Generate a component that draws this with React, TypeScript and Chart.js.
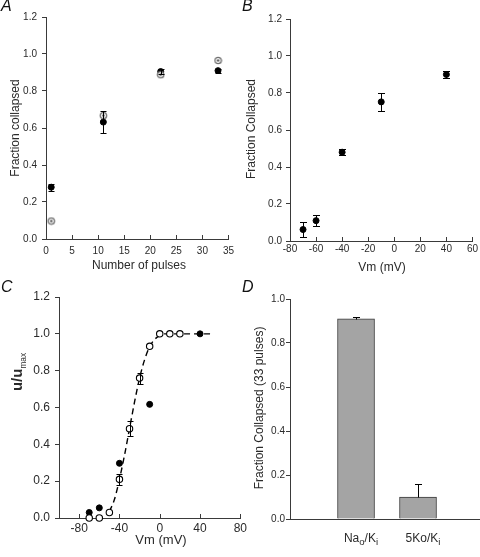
import React, { useEffect, useRef } from 'react';
import { Chart, registerables } from 'chart.js';

Chart.register(...registerables);

const FONT = '"Liberation Sans", Arial, Helvetica, sans-serif';
const AXIS = '#3a3a3a';
const TEXT = '#2a2a2a';

// ---------- Panel A data ----------
const aPulses = [1, 11, 22, 33];
const aFilled = [0.28, 0.632, 0.905, 0.91];
const aFilledErr = [0.02, 0.06, 0.015, 0.01];
const aOpen = [0.097, 0.667, 0.888, 0.965];
const aXTicks = [0, 5, 10, 15, 20, 25, 30, 35];
const fracTicks = [0, 0.2, 0.4, 0.6, 0.8, 1.0, 1.2];

// ---------- Panel B data ----------
const bVm = [-70, -60, -40, -10, 40];
const bFrac = [0.062, 0.11, 0.48, 0.752, 0.9];
const bErr = [0.04, 0.03, 0.015, 0.05, 0.017];
const bXTicks = [-80, -60, -40, -20, 0, 20, 40, 60];

// ---------- Panel C data ----------
const cOpenVm = [-70, -60, -50, -40, -30, -20, -10, 0, 10, 20];
const cOpen = [0, 0, 0.03, 0.21, 0.485, 0.76, 0.932, 1.0, 1.0, 1.0];
const cOpenErr = [0, 0, 0, 0.03, 0.04, 0.03, 0, 0, 0, 0];
const cFilledVm = [-70, -60, -40, -10, 40];
const cFilled = [0.03, 0.055, 0.297, 0.617, 1.0];
const cFitVm = [-50, -45, -40, -35, -30, -25, -20, -15, -10, -5, 0, 5, 10, 20, 30, 40, 50];
const cFit = [0.035, 0.1, 0.21, 0.34, 0.485, 0.63, 0.76, 0.86, 0.93, 0.97, 0.99, 1.0, 1.0, 1.0, 1.0, 1.0, 1.0];
const cXTicks = [-80, -40, 0, 40, 80];

// ---------- Panel D data ----------
const dLabels = ['Na_o/K_i', '5Ko/K_i'];
const dValues = [0.91, 0.1];
const dErrUp = [0.01, 0.06];
const dYTicks = [0, 0.2, 0.4, 0.6, 0.8, 1.0];

const pts = (xs: number[], ys: number[]) => xs.map((x, i) => ({ x, y: ys[i] }));

type Seg = { t: string; sub: boolean };
function parseRich(s: string): Seg[] {
  const out: Seg[] = [];
  let i = 0;
  let buf = '';
  while (i < s.length) {
    if (s[i] === '_') {
      if (buf) {
        out.push({ t: buf, sub: false });
        buf = '';
      }
      if (s[i + 1] === '{') {
        const j = s.indexOf('}', i);
        out.push({ t: s.slice(i + 2, j), sub: true });
        i = j + 1;
      } else {
        out.push({ t: s[i + 1], sub: true });
        i += 2;
      }
    } else {
      buf += s[i];
      i++;
    }
  }
  if (buf) out.push({ t: buf, sub: false });
  return out;
}

type RichOpts = {
  text: string;
  x: number;
  y: number;
  size: number;
  bold?: boolean;
  subBold?: boolean;
  subScale?: number;
  rotate?: boolean;
  color?: string;
};

function drawRich(ctx: CanvasRenderingContext2D, o: RichOpts) {
  const segs = parseRich(o.text);
  const subSize = o.size * (o.subScale ?? 0.75);
  const fontFor = (sub: boolean) =>
    `${(sub ? o.subBold : o.bold) ? 'bold ' : ''}${sub ? subSize : o.size}px ${FONT}`;
  let total = 0;
  const widths = segs.map((s) => {
    ctx.font = fontFor(s.sub);
    const w = ctx.measureText(s.t).width;
    total += w;
    return w;
  });
  ctx.save();
  ctx.translate(o.x, o.y);
  if (o.rotate) ctx.rotate(-Math.PI / 2);
  ctx.fillStyle = o.color ?? TEXT;
  ctx.textBaseline = 'alphabetic';
  ctx.textAlign = 'left';
  const base = o.size * 0.36;
  let cx = -total / 2;
  segs.forEach((s, k) => {
    ctx.font = fontFor(s.sub);
    ctx.fillText(s.t, cx, s.sub ? base + o.size * 0.22 : base);
    cx += widths[k];
  });
  ctx.restore();
}

type DecorCfg = {
  inwardTicks?: number;
  yTitle?: RichOpts;
  xTitle?: RichOpts;
  xLabels?: { text: string; value: number; dx: number; y: number; size: number }[];
};

function makeDecor(cfg: DecorCfg) {
  return {
    id: 'decor',
    afterDraw(chart: any) {
      const ctx = chart.ctx as CanvasRenderingContext2D;
      const xs = chart.scales.x;
      const area = chart.chartArea;
      if (cfg.inwardTicks) {
        ctx.save();
        ctx.strokeStyle = AXIS;
        ctx.lineWidth = 1;
        xs.ticks.forEach((t: any) => {
          const px = Math.round(xs.getPixelForValue(t.value)) + 0.5;
          ctx.beginPath();
          ctx.moveTo(px, area.bottom);
          ctx.lineTo(px, area.bottom - cfg.inwardTicks!);
          ctx.stroke();
        });
        ctx.restore();
      }
      if (cfg.yTitle) drawRich(ctx, { ...cfg.yTitle, rotate: true });
      if (cfg.xTitle) drawRich(ctx, cfg.xTitle);
      if (cfg.xLabels) {
        cfg.xLabels.forEach((l) => {
          drawRich(ctx, {
            text: l.text,
            x: xs.getPixelForValue(l.value) + l.dx,
            y: l.y,
            size: l.size,
            subScale: 0.8,
          });
        });
      }
    },
  };
}

type ErrCfg = { ds: number; plus: number[]; minus?: number[]; cap: number };
function makeErrorBars(list: ErrCfg[]) {
  return {
    id: 'errorBars',
    afterDatasetsDraw(chart: any) {
      const ctx = chart.ctx as CanvasRenderingContext2D;
      const xs = chart.scales.x;
      const ys = chart.scales.y;
      ctx.save();
      ctx.strokeStyle = '#000';
      ctx.lineWidth = 1;
      list.forEach((e) => {
        const data = chart.data.datasets[e.ds].data as { x: number; y: number }[];
        data.forEach((p, j) => {
          const up = e.plus[j] ?? 0;
          const dn = e.minus ? e.minus[j] ?? 0 : 0;
          if (!up && !dn) return;
          const px = Math.round(xs.getPixelForValue(p.x)) + 0.5;
          const y1 = Math.round(ys.getPixelForValue(p.y + up)) + 0.5;
          const y2 = Math.round(ys.getPixelForValue(p.y - dn)) + 0.5;
          ctx.beginPath();
          ctx.moveTo(px, y1);
          ctx.lineTo(px, y2);
          if (up) {
            ctx.moveTo(px - e.cap, y1);
            ctx.lineTo(px + e.cap, y1);
          }
          if (dn) {
            ctx.moveTo(px - e.cap, y2);
            ctx.lineTo(px + e.cap, y2);
          }
          ctx.stroke();
        });
      });
      ctx.restore();
    },
  };
}

function yScale(min: number, max: number, ticks: number[], width: number, fontSize: number, pad: number, tickLen: number) {
  return {
    type: 'linear',
    position: 'left',
    min,
    max,
    afterBuildTicks: (s: any) => {
      s.ticks = ticks.map((v) => ({ value: v }));
    },
    afterFit: (s: any) => {
      s.width = width;
    },
    ticks: {
      font: { family: FONT, size: fontSize },
      color: TEXT,
      padding: pad,
      autoSkip: false,
      callback: (v: any) => Number(v).toFixed(1),
    },
    grid: { display: true, drawOnChartArea: false, drawTicks: true, tickLength: tickLen, color: AXIS, lineWidth: 1 },
    border: { display: true, color: AXIS, width: 1 },
  };
}

function xScale(min: number, max: number, ticks: number[], height: number, fontSize: number, pad: number, showLabels = true) {
  return {
    type: 'linear',
    position: 'bottom',
    min,
    max,
    afterBuildTicks: (s: any) => {
      s.ticks = ticks.map((v) => ({ value: v }));
    },
    afterFit: (s: any) => {
      s.height = height;
    },
    ticks: {
      display: showLabels,
      font: { family: FONT, size: fontSize },
      color: TEXT,
      padding: pad,
      maxRotation: 0,
      autoSkip: false,
      callback: (v: any) => String(v),
    },
    grid: { display: true, drawOnChartArea: false, drawTicks: false, color: AXIS, lineWidth: 1 },
    border: { display: true, color: AXIS, width: 1 },
  };
}

function ringDot(): HTMLCanvasElement {
  const c = document.createElement('canvas');
  c.width = 9;
  c.height = 9;
  const g = c.getContext('2d')!;
  g.beginPath();
  g.arc(4.5, 4.5, 3.2, 0, Math.PI * 2);
  g.fillStyle = '#fff';
  g.fill();
  g.lineWidth = 1.3;
  g.strokeStyle = '#707070';
  g.stroke();
  g.beginPath();
  g.arc(4.5, 4.5, 1.2, 0, Math.PI * 2);
  g.fillStyle = '#505050';
  g.fill();
  return c;
}

const baseOptions = (padding: any) => ({
  animation: false,
  responsive: false,
  devicePixelRatio: 1,
  events: [],
  layout: { padding },
  plugins: { legend: { display: false }, tooltip: { enabled: false }, title: { display: false } },
});

const filledStyle = {
  backgroundColor: '#000',
  borderColor: '#000',
  pointRadius: 3,
  borderWidth: 1,
  clip: false,
};

function buildA(): any {
  return {
    type: 'scatter',
    data: {
      datasets: [
        { data: pts(aPulses, aOpen), pointStyle: ringDot(), pointRadius: 4, clip: false },
        { data: pts(aPulses, aFilled), ...filledStyle },
      ],
    },
    options: {
      ...baseOptions({ left: 0, top: 17, right: 5, bottom: 0 }),
      scales: {
        x: xScale(0, 35, aXTicks, 41, 10, 6),
        y: yScale(0, 1.2, fracTicks, 46, 10, 5, 4),
      },
    },
    plugins: [
      makeErrorBars([{ ds: 1, plus: aFilledErr, minus: aFilledErr, cap: 3 }]),
      makeDecor({
        inwardTicks: 4,
        yTitle: { text: 'Fraction collapsed', x: 15, y: 128, size: 12 },
        xTitle: { text: 'Number of pulses', x: 139, y: 265, size: 12 },
      }),
    ],
  };
}

function buildB(): any {
  return {
    type: 'scatter',
    data: {
      datasets: [{ data: pts(bVm, bFrac), ...filledStyle }],
    },
    options: {
      ...baseOptions({ left: 0, top: 19, right: 7, bottom: 0 }),
      scales: {
        x: xScale(-80, 60, bXTicks, 39, 10, 2),
        y: yScale(0, 1.2, fracTicks, 50, 10, 4, 4),
      },
    },
    plugins: [
      makeErrorBars([{ ds: 0, plus: bErr, minus: bErr, cap: 3.5 }]),
      makeDecor({
        inwardTicks: 4,
        yTitle: { text: 'Fraction Collapsed', x: 11, y: 129, size: 12 },
        xTitle: { text: 'Vm (mV)', x: 142, y: 267, size: 12 },
      }),
    ],
  };
}

function buildC(): any {
  return {
    type: 'scatter',
    data: {
      datasets: [
        {
          data: pts(cOpenVm, cOpen),
          backgroundColor: '#fff',
          borderColor: '#000',
          pointRadius: 3.2,
          borderWidth: 1.1,
          clip: false,
        },
        { data: pts(cFilledVm, cFilled), ...filledStyle },
        {
          type: 'line',
          data: pts(cFitVm, cFit),
          borderColor: '#000',
          borderWidth: 1.4,
          borderDash: [6, 4],
          pointRadius: 0,
          cubicInterpolationMode: 'monotone',
          fill: false,
          showLine: true,
          clip: false,
        },
      ],
    },
    options: {
      ...baseOptions({ left: 0, top: 17, right: 7, bottom: 0 }),
      scales: {
        x: xScale(-100, 80, cXTicks, 39, 12, 3),
        y: yScale(0, 1.2, fracTicks, 59, 12, 5, 4),
      },
    },
    plugins: [
      makeErrorBars([{ ds: 0, plus: cOpenErr, minus: cOpenErr, cap: 3 }]),
      makeDecor({
        inwardTicks: 4,
        yTitle: { text: 'u/u_{max}', x: 17, y: 92, size: 15, bold: true, subBold: false, subScale: 0.55 },
        xTitle: { text: 'Vm (mV)', x: 161, y: 259, size: 13 },
      }),
    ],
  };
}

function buildD(): any {
  return {
    type: 'bar',
    data: {
      datasets: [
        {
          data: pts([1, 2], dValues),
          backgroundColor: '#a4a4a4',
          borderColor: '#3a3a3a',
          borderWidth: 1,
          barThickness: 37,
        },
      ],
    },
    options: {
      ...baseOptions({ left: 0, top: 19, right: 0, bottom: 0 }),
      scales: {
        x: xScale(-0.065, 3.0, [], 38, 12, 0, false),
        y: yScale(0, 1.0, dYTicks, 40, 10, 1, 4),
      },
    },
    plugins: [
      makeErrorBars([{ ds: 0, plus: dErrUp, cap: 3.5 }]),
      makeDecor({
        yTitle: { text: 'Fraction Collapsed (33 pulses)', x: 9, y: 128, size: 12 },
        xLabels: dLabels.map((t, i) => ({ text: t, value: i + 1, dx: 5, y: 258, size: 12 })),
      }),
    ],
  };
}

function ChartPanel(props: { left: number; top: number; width: number; height: number; build: () => any }) {
  const ref = useRef<HTMLCanvasElement>(null);
  useEffect(() => {
    const chart = new Chart(ref.current as HTMLCanvasElement, props.build());
    return () => chart.destroy();
  }, []);
  return (
    <canvas
      ref={ref}
      width={props.width}
      height={props.height}
      style={{ position: 'absolute', left: props.left, top: props.top, width: props.width, height: props.height }}
    />
  );
}

const letterStyle = (left: number, top: number): React.CSSProperties => ({
  position: 'absolute',
  left,
  top,
  fontFamily: FONT,
  fontStyle: 'italic',
  fontSize: 16,
  lineHeight: '18px',
  color: '#111',
});

export default function App() {
  return (
    <div style={{ position: 'absolute', left: 0, top: 0, width: 480, height: 557, background: '#fff', overflow: 'hidden' }}>
      <ChartPanel left={0} top={0} width={240} height={280} build={buildA} />
      <ChartPanel left={240} top={0} width={240} height={280} build={buildB} />
      <ChartPanel left={0} top={280} width={250} height={277} build={buildC} />
      <ChartPanel left={250} top={280} width={230} height={277} build={buildD} />
      <div style={letterStyle(1, -3)}>A</div>
      <div style={letterStyle(242, -3)}>B</div>
      <div style={letterStyle(1, 278)}>C</div>
      <div style={letterStyle(242, 278)}>D</div>
    </div>
  );
}
